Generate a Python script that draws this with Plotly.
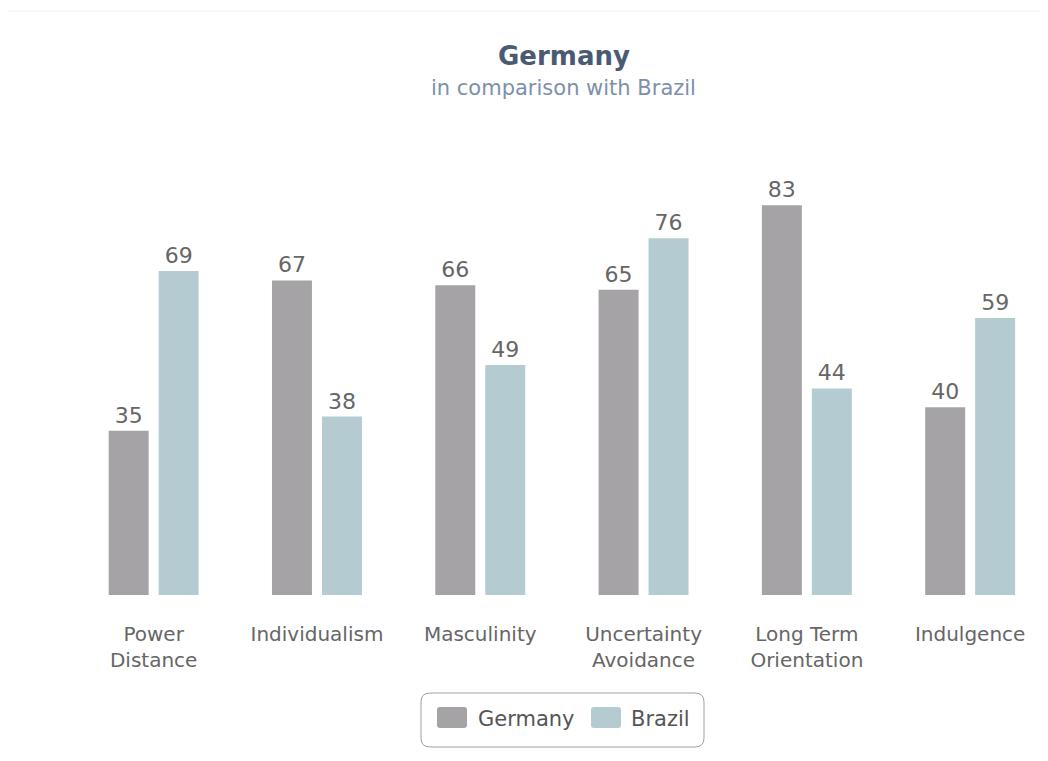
import plotly.graph_objects as go

categories = ["Power<br>Distance", "Individualism", "Masculinity",
              "Uncertainty<br>Avoidance", "Long Term<br>Orientation", "Indulgence"]
series_names = ["Germany", "Brazil"]
germany = [35, 67, 66, 65, 83, 40]
brazil = [69, 38, 49, 76, 44, 59]
colors = ["#a5a3a6", "#b4cbd1"]

OFF = 8  # page offset of the figure in the screenshot
W, H = 1048 - OFF, 761 - OFF
L, R, T, B = 64, 0, 112, 166
PW = W - L - R
PH = H - T - B
cat_px = 163.3
FONT = "DejaVu Sans"


def px_x(x):
    return (x - OFF - L) / PW


def px_y(y):
    return (H - B - (y - OFF)) / PH


fig = go.Figure()
for name, vals, col in zip(series_names, [germany, brazil], colors):
    fig.add_trace(go.Bar(
        x=categories, y=vals, name=name, marker=dict(color=col, line=dict(width=0)),
        text=[str(v) for v in vals], textposition="outside",
        textfont=dict(family=FONT, size=22, color="#666666"),
        cliponaxis=False, showlegend=False,
    ))

shapes = []
annotations = []

# faint page frame
shapes.append(dict(type="line", xref="paper", yref="paper",
                   x0=px_x(8), x1=px_x(1048), y0=px_y(11), y1=px_y(11),
                   line=dict(color="#f2f2f2", width=1)))


def rounded_rect(x0, y0, x1, y1, r):
    X = lambda v: px_x(v)
    Y = lambda v: px_y(v)
    return (f"M {X(x0+r)},{Y(y0)} L {X(x1-r)},{Y(y0)} Q {X(x1)},{Y(y0)} {X(x1)},{Y(y0+r)} "
            f"L {X(x1)},{Y(y1-r)} Q {X(x1)},{Y(y1)} {X(x1-r)},{Y(y1)} "
            f"L {X(x0+r)},{Y(y1)} Q {X(x0)},{Y(y1)} {X(x0)},{Y(y1-r)} "
            f"L {X(x0)},{Y(y0+r)} Q {X(x0)},{Y(y0)} {X(x0+r)},{Y(y0)} Z")


# legend box
shapes.append(dict(type="path", xref="paper", yref="paper",
                   path=rounded_rect(421, 693, 704, 747, 9),
                   line=dict(color="#a0a0a0", width=1), fillcolor="rgba(0,0,0,0)"))
swatch_x = [437, 591]
text_x = [476, 629]
for name, col, sx, tx in zip(series_names, colors, swatch_x, text_x):
    shapes.append(dict(type="path", xref="paper", yref="paper",
                       path=rounded_rect(sx, 707, sx + 30, 728, 3),
                       line=dict(width=0), fillcolor=col))
    annotations.append(dict(text=name, xref="paper", yref="paper",
                            x=px_x(tx), y=px_y(718.5), xanchor="left", yanchor="middle",
                            showarrow=False,
                            font=dict(family=FONT, size=21, color="#555555")))

# title + subtitle
annotations.append(dict(text="<b>Germany</b>", xref="paper", yref="paper",
                        x=px_x(564), y=px_y(56), xanchor="center", yanchor="middle",
                        showarrow=False,
                        font=dict(family=FONT, size=26, color="#4a5a72")))
annotations.append(dict(text="in comparison with Brazil", xref="paper", yref="paper",
                        x=px_x(563), y=px_y(88), xanchor="center", yanchor="middle",
                        showarrow=False,
                        font=dict(family=FONT, size=21, color="#7d90ab")))

fig.update_layout(
    width=W, height=H,
    margin=dict(l=L, r=R, t=T, b=B, pad=0),
    paper_bgcolor="white", plot_bgcolor="white",
    barmode="group", bargap=0.388, bargroupgap=0.2,
    shapes=shapes, annotations=annotations,
    xaxis=dict(range=[-0.5, -0.5 + PW / cat_px], showgrid=False, zeroline=False,
               showline=False, ticks="", ticklabelstandoff=25,
               tickfont=dict(family=FONT, size=20, color="#666666")),
    yaxis=dict(range=[0, PH / 4.695], visible=False, showgrid=False, zeroline=False),
    showlegend=False,
)

fig.write_html("out.html")
